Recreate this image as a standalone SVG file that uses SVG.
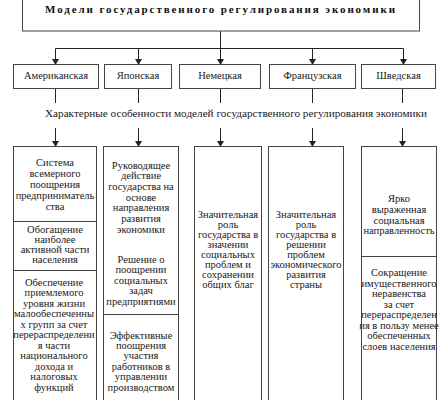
<svg xmlns="http://www.w3.org/2000/svg" width="443" height="400" viewBox="0 0 443 400">
<defs>
<marker id="ah" markerUnits="userSpaceOnUse" markerWidth="6" markerHeight="7" refX="5" refY="3.5" orient="auto">
<path d="M0,0 L6,3.5 L0,7 z" fill="#222"/>
</marker>
<style>
.box{fill:#fff;stroke:#444;stroke-width:1}
.div{stroke:#444;stroke-width:1}
.t{font-family:"Liberation Serif","Times New Roman",serif;font-size:10.5px;fill:#1a1a1a;text-anchor:middle}
.h{font-family:"Liberation Serif","Times New Roman",serif;font-size:11px;font-weight:bold;fill:#111;text-anchor:middle}
.c{stroke:#222;stroke-width:1;fill:none}
</style>
</defs>
<rect width="443" height="400" fill="#fff"/>
<g id="connectors">
<path class="c" d="M220.5,31 V48.5 M55.5,48.5 H403.5"/>
<path class="c" d="M55.5,48.5 V64" marker-end="url(#ah)"/>
<path class="c" d="M138.5,48.5 V64" marker-end="url(#ah)"/>
<path class="c" d="M220.5,48.5 V64" marker-end="url(#ah)"/>
<path class="c" d="M312.5,48.5 V64" marker-end="url(#ah)"/>
<path class="c" d="M403.5,48.5 V64" marker-end="url(#ah)"/>
<path class="c" d="M55.5,89 V103 M138.5,89 V103 M220.5,89 V103 M312.5,89 V103 M402.5,89 V103"/>
<path class="c" d="M55.5,128 V146" marker-end="url(#ah)"/>
<path class="c" d="M138.5,128 V146" marker-end="url(#ah)"/>
<path class="c" d="M220.5,128 V146" marker-end="url(#ah)"/>
<path class="c" d="M312.5,128 V146" marker-end="url(#ah)"/>
<path class="c" d="M402.5,128 V146" marker-end="url(#ah)"/>
</g>
<g id="title">
<rect class="box" x="22.5" y="-2" width="397" height="33"/>
<text class="h" x="220" y="13" textLength="350" lengthAdjust="spacing">Модели государственного регулирования экономики</text>
</g>
<g id="m-american"><rect class="box" x="13.5" y="64.5" width="85" height="24"/><text class="t" x="56" y="78.5">Американская</text></g>
<g id="m-japan"><rect class="box" x="104.5" y="64.5" width="67" height="24"/><text class="t" x="138" y="78.5">Японская</text></g>
<g id="m-german"><rect class="box" x="179.5" y="64.5" width="81" height="24"/><text class="t" x="220" y="78.5">Немецкая</text></g>
<g id="m-french"><rect class="box" x="269.5" y="64.5" width="86" height="24"/><text class="t" x="312.5" y="78.5">Французская</text></g>
<g id="m-swedish"><rect class="box" x="361.5" y="64.5" width="74" height="24"/><text class="t" x="398.5" y="78.5">Шведская</text></g>
<g id="subtitle">
<text class="t" x="236" y="117" textLength="382" lengthAdjust="spacingAndGlyphs">Характерные особенности моделей государственного регулирования экономики</text>
</g>
<g id="col-american">
<rect class="box" x="13.5" y="146.5" width="83" height="260"/>
<line class="div" x1="13.5" y1="221.5" x2="96.5" y2="221.5"/>
<line class="div" x1="13.5" y1="270.5" x2="96.5" y2="270.5"/>
<text class="t"><tspan x="55" y="166">Система</tspan><tspan x="55" y="177">всемерного</tspan><tspan x="55" y="188">поощрения</tspan><tspan x="55" y="199">предприниматель</tspan><tspan x="55" y="210">ства</tspan></text>
<text class="t"><tspan x="55" y="233">Обогащение</tspan><tspan x="55" y="243">наиболее</tspan><tspan x="55" y="253">активной части</tspan><tspan x="55" y="263">населения</tspan></text>
<text class="t"><tspan x="54" y="285.5">Обеспечение</tspan><tspan x="54" y="296">приемлемого</tspan><tspan x="54" y="306.5">уровня жизни</tspan><tspan x="54" y="317">малообеспеченны</tspan><tspan x="54" y="327.5">х групп за счет</tspan><tspan x="54" y="338">перераспределени</tspan><tspan x="54" y="348.5">я части</tspan><tspan x="54" y="359">национального</tspan><tspan x="54" y="369.5">дохода и</tspan><tspan x="54" y="380">налоговых</tspan><tspan x="54" y="390.5">функций</tspan></text>
</g>
<g id="col-japan">
<rect class="box" x="103.5" y="146.5" width="75" height="260"/>
<line class="div" x1="103.5" y1="314.5" x2="178.5" y2="314.5"/>
<text class="t"><tspan x="141" y="168.5">Руководящее</tspan><tspan x="141" y="179">действие</tspan><tspan x="141" y="190">государства на</tspan><tspan x="141" y="200.5">основе</tspan><tspan x="141" y="211">направления</tspan><tspan x="141" y="222">развития</tspan><tspan x="141" y="232.5">экономики</tspan></text>
<text class="t"><tspan x="141" y="262.5">Решение о</tspan><tspan x="141" y="273">поощрении</tspan><tspan x="141" y="283.5">социальных</tspan><tspan x="141" y="294">задач</tspan><tspan x="141" y="305">предприятиями</tspan></text>
<text class="t"><tspan x="141" y="338.5">Эффективные</tspan><tspan x="141" y="348.5">поощрения</tspan><tspan x="141" y="359">участия</tspan><tspan x="141" y="369.5">работников в</tspan><tspan x="141" y="380">управлении</tspan><tspan x="141" y="390.5">производством</tspan></text>
</g>
<g id="col-german">
<rect class="box" x="194.5" y="146.5" width="67" height="260"/>
<text class="t"><tspan x="228" y="218">Значительная</tspan><tspan x="228" y="228">роль</tspan><tspan x="228" y="238">государства в</tspan><tspan x="228" y="248">значении</tspan><tspan x="228" y="258">социальных</tspan><tspan x="228" y="268">проблем и</tspan><tspan x="228" y="278">сохранении</tspan><tspan x="228" y="288">общих благ</tspan></text>
</g>
<g id="col-french">
<rect class="box" x="268.5" y="146.5" width="75" height="260"/>
<text class="t"><tspan x="306" y="218">Значительная</tspan><tspan x="306" y="228">роль</tspan><tspan x="306" y="238">государства в</tspan><tspan x="306" y="248">решении</tspan><tspan x="306" y="258">проблем</tspan><tspan x="306" y="268">экономического</tspan><tspan x="306" y="278">развития</tspan><tspan x="306" y="288">страны</tspan></text>
</g>
<g id="col-swedish">
<rect class="box" x="361.5" y="146.5" width="75" height="260"/>
<line class="div" x1="361.5" y1="256.5" x2="436.5" y2="256.5"/>
<text class="t"><tspan x="399" y="202">Ярко</tspan><tspan x="399" y="213">выраженная</tspan><tspan x="399" y="223.5">социальная</tspan><tspan x="399" y="234">направленность</tspan></text>
<text class="t"><tspan x="399" y="276">Сокращение</tspan><tspan x="399" y="286.5">имущественного</tspan><tspan x="399" y="297">неравенства</tspan><tspan x="399" y="307.5">за счет</tspan><tspan x="399" y="318">перераспределен</tspan><tspan x="399" y="328.5">ия в пользу менее</tspan><tspan x="399" y="339">обеспеченных</tspan><tspan x="399" y="349.5">слоев населения</tspan></text>
</g>
</svg>
